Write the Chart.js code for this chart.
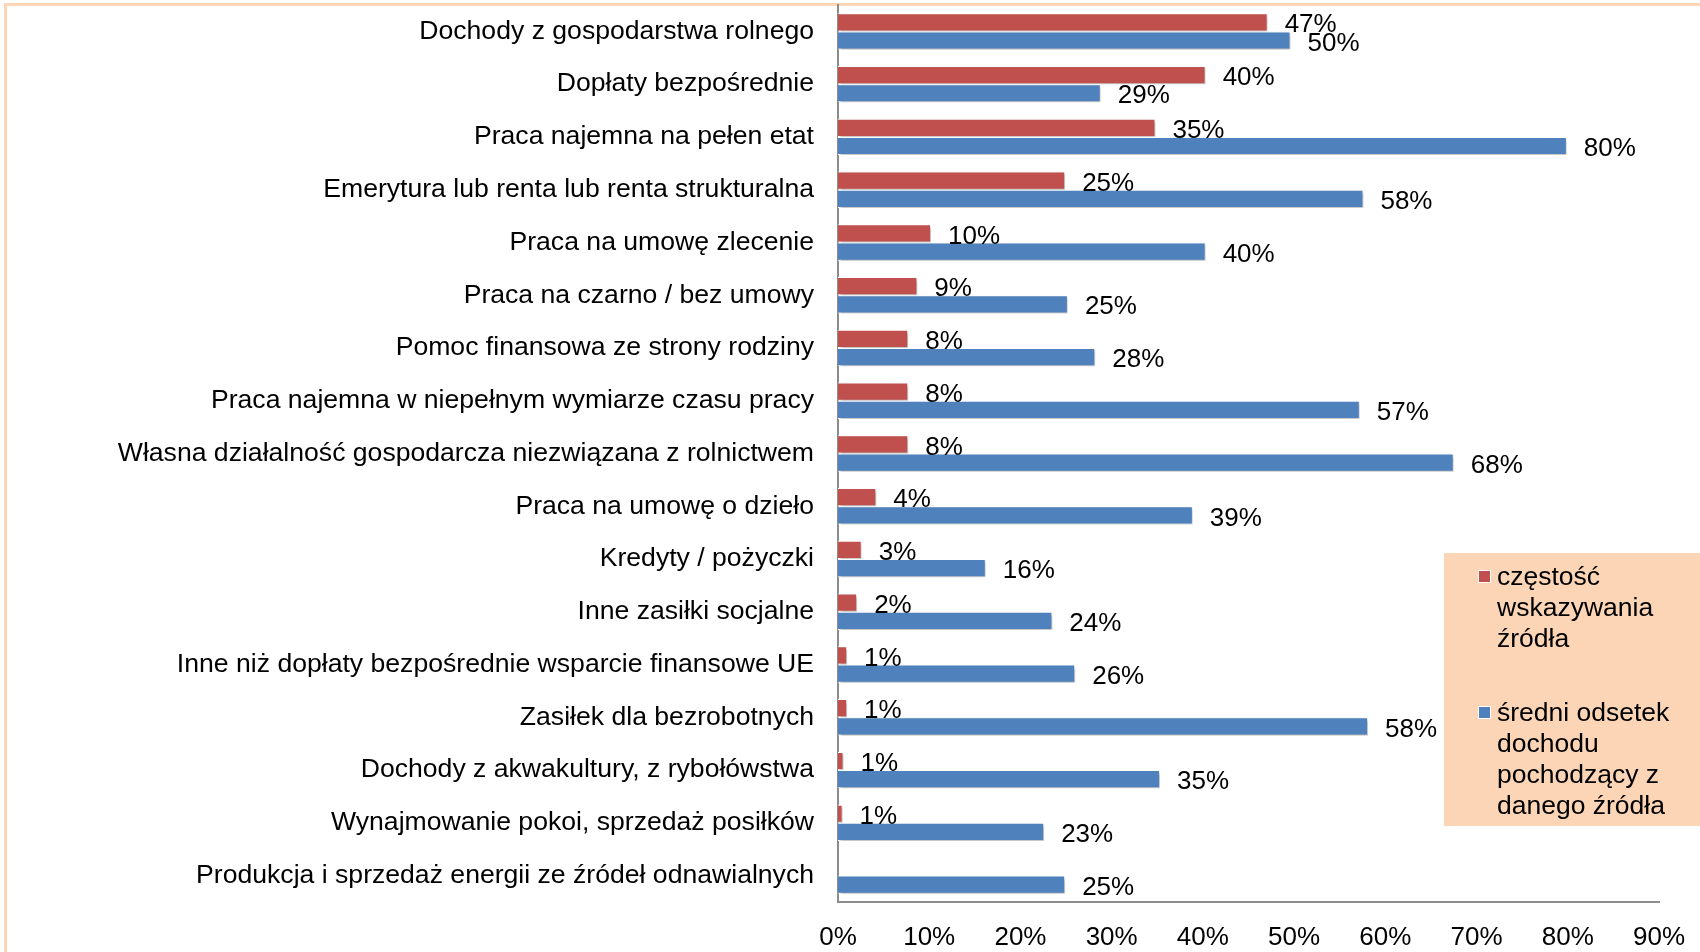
<!DOCTYPE html>
<html>
<head>
<meta charset="utf-8">
<script src="https://cdn.jsdelivr.net/npm/chart.js@4/dist/chart.umd.min.js"></script>
<style>
html,body{margin:0;padding:0;background:#fff;}
canvas{display:block;}
</style>
</head>
<body>
<canvas id="c" width="1700" height="952"></canvas>
<script>
const categories = [
  "Dochody z gospodarstwa rolnego",
  "Dopłaty bezpośrednie",
  "Praca najemna na pełen etat",
  "Emerytura lub renta lub renta strukturalna",
  "Praca na umowę zlecenie",
  "Praca na czarno / bez umowy",
  "Pomoc finansowa ze strony rodziny",
  "Praca najemna w niepełnym wymiarze czasu pracy",
  "Własna działalność gospodarcza niezwiązana z rolnictwem",
  "Praca na umowę o dzieło",
  "Kredyty / pożyczki",
  "Inne zasiłki socjalne",
  "Inne niż dopłaty bezpośrednie wsparcie finansowe UE",
  "Zasiłek dla bezrobotnych",
  "Dochody z akwakultury, z rybołówstwa",
  "Wynajmowanie pokoi, sprzedaż posiłków",
  "Produkcja i sprzedaż energii ze źródeł odnawialnych"
];
const frequency = [47.1, 40.3, 34.8, 24.9, 10.2, 8.7, 7.7, 7.7, 7.7, 4.2, 2.6, 2.1, 1.0, 1.0, 0.6, 0.5, 0];
const incomeShare = [49.6, 28.8, 79.9, 57.6, 40.3, 25.2, 28.2, 57.2, 67.5, 38.9, 16.2, 23.5, 26.0, 58.1, 35.3, 22.6, 24.9];
const seriesNames = [["częstość", "wskazywania", "źródła"], ["średni odsetek", "dochodu", "pochodzący z", "danego źródła"]];
const xTicks = [0, 10, 20, 30, 40, 50, 60, 70, 80, 90];

const FONT = '"Liberation Sans", Arial, sans-serif';
const RED = '#C0504D', BLUE = '#4F81BD', PEACH = '#FBD5B5';

const framePlugin = {
  id: 'frame',
  beforeDraw(chart) {
    const ctx = chart.ctx;
    ctx.save();
    ctx.fillStyle = '#fff';
    ctx.fillRect(0, 0, chart.width, chart.height);
    ctx.fillStyle = PEACH;
    ctx.fillRect(4, 3, chart.width - 4, 3);
    ctx.fillRect(4, 3, 3, chart.height - 3);
    ctx.restore();
  }
};

const shadowPlugin = {
  id: 'shadow',
  beforeDatasetsDraw(chart) {
    const ctx = chart.ctx;
    ctx.save();
    ctx.shadowColor = 'rgba(0,0,0,0.30)';
    ctx.shadowOffsetX = 1.5;
    ctx.shadowOffsetY = 2;
    ctx.shadowBlur = 3;
  },
  afterDatasetsDraw(chart) {
    chart.ctx.restore();
  }
};

const labelPlugin = {
  id: 'valueLabels',
  afterDatasetsDraw(chart) {
    const ctx = chart.ctx;
    ctx.save();
    ctx.font = '26px ' + FONT;
    ctx.fillStyle = '#000';
    ctx.textAlign = 'left';
    ctx.textBaseline = 'middle';
    chart.data.datasets.forEach((ds, i) => {
      const meta = chart.getDatasetMeta(i);
      meta.data.forEach((bar, j) => {
        const v = ds.data[j];
        if (!v) return;
        ctx.fillText(Math.round(v) + '%', bar.x + 17, bar.y + 3);
      });
    });
    ctx.restore();
  }
};

const legendPlugin = {
  id: 'boxLegend',
  afterDraw(chart) {
    const ctx = chart.ctx;
    ctx.save();
    ctx.fillStyle = PEACH;
    ctx.fillRect(1444, 553, 256, 273);
    ctx.font = '26.5px ' + FONT;
    ctx.fillStyle = '#000';
    ctx.textAlign = 'left';
    ctx.textBaseline = 'middle';
    const starts = [578, 714];
    const colors = [RED, BLUE];
    seriesNames.forEach((lines, i) => {
      ctx.fillStyle = '#fff';
      ctx.fillRect(1478, starts[i] - 8, 13, 13);
      ctx.fillStyle = colors[i];
      ctx.fillRect(1479, starts[i] - 7, 11, 11);
      ctx.fillStyle = '#000';
      lines.forEach((t, k) => ctx.fillText(t, 1497, starts[i] + k * 31));
    });
    ctx.restore();
  }
};

function zeroPad(s) { s.paddingTop = 0; s.paddingBottom = 0; s.paddingLeft = 0; s.paddingRight = 0; }

new Chart(document.getElementById('c'), {
  type: 'bar',
  data: {
    labels: categories,
    datasets: [
      { label: seriesNames[0].join(' '), data: frequency, backgroundColor: RED, borderColor: '#fff', borderWidth: 1, categoryPercentage: 0.69, barPercentage: 1 },
      { label: seriesNames[1].join(' '), data: incomeShare, backgroundColor: BLUE, borderColor: '#fff', borderWidth: 1, categoryPercentage: 0.69, barPercentage: 1 }
    ]
  },
  options: {
    indexAxis: 'y',
    responsive: false,
    animation: false,
    layout: { padding: { top: 5, right: 41, left: 0, bottom: 0 } },
    plugins: { legend: { display: false }, tooltip: { enabled: false } },
    scales: {
      x: {
        min: 0, max: 90,
        afterFit(s) { s.height = 50; zeroPad(s); },
        afterBuildTicks(s) { s.ticks = xTicks.map(v => ({ value: v })); },
        grid: { display: false, drawTicks: false },
        border: { display: true, color: '#8c8c8c', width: 2 },
        ticks: { padding: 20, color: '#000', font: { family: FONT, size: 26 }, callback: v => v + '%' }
      },
      y: {
        afterFit(s) { s.width = 838; zeroPad(s); },
        grid: { display: false, drawTicks: false },
        border: { display: true, color: '#8c8c8c', width: 2 },
        ticks: { padding: 24, color: '#000', font: { family: FONT, size: 26.6 }, autoSkip: false }
      }
    }
  },
  plugins: [framePlugin, shadowPlugin, labelPlugin, legendPlugin]
});
</script>
</body>
</html>
